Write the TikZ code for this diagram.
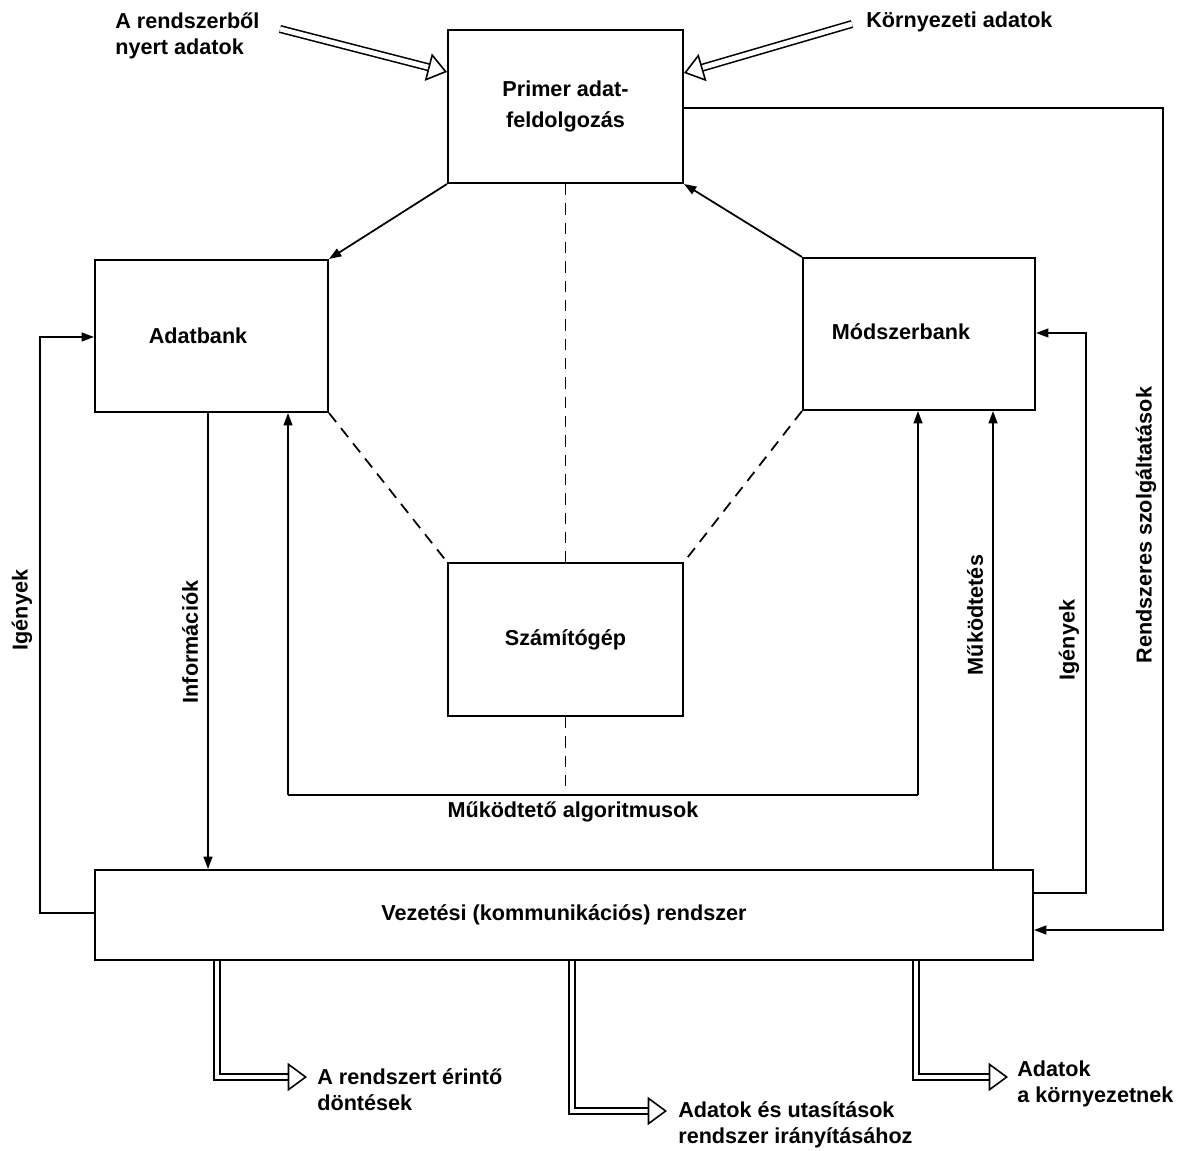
\documentclass[tikz,border=0pt]{standalone}
\usepackage{fontspec}
\setmainfont{Liberation Sans}
\usetikzlibrary{arrows.meta,calc}

\tikzset{
  blokk/.style={draw,line width=1.2pt,inner sep=0pt,align=center,font=\fontsize{12.3}{18}\selectfont\bfseries},
  felirat/.style={font=\fontsize{12.3}{15}\selectfont\bfseries,inner sep=0pt},
  nyil/.style={line width=1pt,-{Triangle[length=7pt,width=5pt]}},
  szagg/.style={line width=1pt,dash pattern=on 6.5pt off 4.5pt},
  kettos/.style={double,double distance=2.8pt,line width=0.9pt,-{Triangle[open,length=11pt,width=16pt]}}
}

\begin{document}
\begin{tikzpicture}[x=0.02cm,y=-0.02cm]
\useasboundingbox (0,0) rectangle (1182,1151);

% dobozok
\node[blokk,minimum width=4.7cm,minimum height=3.06cm] (primer) at (565.5,106.5) {Primer adat-\\feldolgozás};
\node[blokk,minimum width=4.66cm,minimum height=3.04cm] (adatbank) at (211.5,336) {};
\node[blokk,minimum width=4.64cm,minimum height=3.04cm] (modszer) at (919,334) {};
\node[blokk,minimum width=4.7cm,minimum height=3.06cm] (gep) at (565.5,639.5) {Számítógép};
\node[blokk,minimum width=18.76cm,minimum height=1.8cm] (vezet) at (564,915) {Vezetési (kommunikációs) rendszer};

\node[felirat] (adatbanktxt) at (198,336) {Adatbank};
\node[felirat] (modszertxt) at (901,332) {Módszerbank};

% bemenetek
\node[felirat,align=left,anchor=north west] (rendszeradat) at (115,12) {A rendszerből\\nyert adatok};
\node[felirat,anchor=west] (kornyadat) at (866,22) {Környezeti adatok};
\coordinate (b1) at (280,29);
\coordinate (b2) at (852,24);
\draw[kettos] (b1) -- (primer.west |- 0,72);
\draw[kettos] (b2) -- (primer.east |- 0,73);

% primer - bankok
\draw[nyil] (primer.south west) -- (adatbank.north east);
\draw[nyil] (modszer.north west) -- (primer.south east);

% szamitogep kapcsolatai
\draw[szagg] (primer.south) -- (gep.north);
\draw[szagg] (adatbank.south east) -- (gep.north west);
\draw[szagg] (modszer.south west) -- (gep.north east);
\coordinate (alg) at (565.5,795);
\draw[szagg] (gep.south) -- (alg);
\draw[line width=1pt] (288,795) -- (918,795);
\draw[nyil] (288,795) -- (adatbank.south -| 288,0);
\draw[nyil] (918,795) -- (modszer.south -| 918,0);
\node[felirat] (algtxt) at (573,812) {Működtető algoritmusok};

% informaciok, igenyek
\draw[nyil] (adatbank.south -| 208,0) -- (vezet.north -| 208,0);
\node[felirat,rotate=90] (infotxt) at (190,642) {Információk};
\draw[nyil] (vezet.west |- 0,913) -| (40,337) -- (adatbank.west |- 0,337);
\node[felirat,rotate=90] (igeny1) at (22,610) {Igények};
\draw[nyil] (vezet.north -| 993,0) -- (modszer.south -| 993,0);
\node[felirat,rotate=90] (mukodtxt) at (975,615) {Működtetés};
\draw[nyil] (vezet.east |- 0,893) -| (1086,333) -- (modszer.east |- 0,333);
\node[felirat,rotate=90] (igeny2) at (1069,640) {Igények};
\draw[nyil] (primer.east |- 0,108) -| (1163,930) -- (vezet.east |- 0,930);
\node[felirat,rotate=90] (szolgtxt) at (1146,525) {Rendszeres szolgáltatások};

% kimenetek
\draw[kettos] (vezet.south -| 217,0) |- (307,1077);
\node[felirat,align=left,anchor=north west] (dontes) at (317,1068) {A rendszert érintő\\döntések};
\draw[kettos] (vezet.south -| 572,0) |- (667,1111);
\node[felirat,align=left,anchor=north west] (utasitas) at (678,1101) {Adatok és utasítások\\rendszer irányításához};
\draw[kettos] (vezet.south -| 916,0) |- (1008,1077);
\node[felirat,align=left,anchor=north west] (kornyezet) at (1017,1060) {Adatok\\a környezetnek};

\end{tikzpicture}
\end{document}
